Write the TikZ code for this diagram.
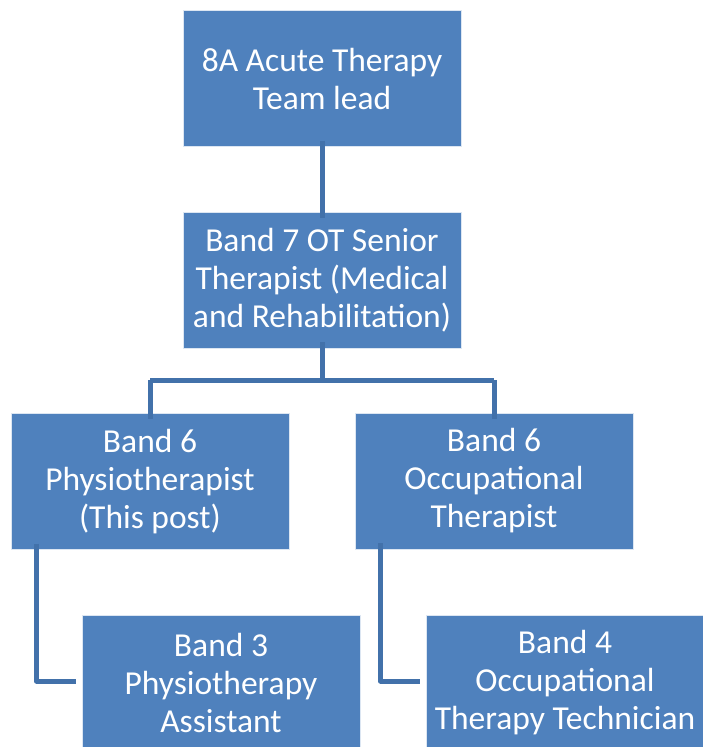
\documentclass[tikz,border=0pt]{standalone}
\usepackage{fontspec}
\setmainfont{Carlito}
\definecolor{boxblue}{RGB}{79,129,189}
\definecolor{lineblue}{RGB}{66,113,170}
\begin{document}
\begin{tikzpicture}[x=1pt,y=-1pt,
  orgbox/.style={rectangle,fill=boxblue,draw=white!80!boxblue,line width=0.8pt,
    minimum width=278pt,minimum height=136pt,inner sep=0pt,
    text=white,align=center,font=\fontsize{33.5}{38}\selectfont},
  link/.style={draw=lineblue,line width=5pt,line join=round}]
\useasboundingbox (0,0) rectangle (703,747);
\begin{scope}
\clip (0,0) rectangle (703,747);
\node[orgbox] (a) at (322,78.5) {8A Acute Therapy\\Team lead};
\node[orgbox] (b) at (322,280) {Band 7 OT Senior\\Therapist (Medical\\and Rehabilitation)};
\node[orgbox,font=\fontsize{33.5}{38}\selectfont] (c) at (150,481.5) {Band 6\\Physiotherapist\\(This post)};
\node[orgbox] (d) at (494,481) {Band 6\\Occupational\\Therapist};
\node[orgbox] (e) at (221,683) {Band 3\\Physiotherapy\\Assistant};
\node[orgbox] (f) at (565,683) {Band 4\\Occupational\\Therapy Technician};
\coordinate (bj) at (322,380);
\draw[link] ([yshift=6pt]a.south) -- ([yshift=-6pt]b.north);
\draw[link] ([yshift=6pt]b.south) -- (bj);
\draw[link] (c.north |- bj) -- ([yshift=-6pt]c.north);
\draw[link] (d.north |- bj) -- ([yshift=-6pt]d.north);
\draw[link] (c.north |- bj) -- (d.north |- bj);
\draw[link] ([xshift=26pt,yshift=6pt]c.south west) |- ([xshift=-6pt,yshift=2pt]e.west);
\draw[link] ([xshift=26pt,yshift=6pt]d.south west) |- ([xshift=-6pt,yshift=2pt]f.west);
\end{scope}
\end{tikzpicture}
\end{document}
